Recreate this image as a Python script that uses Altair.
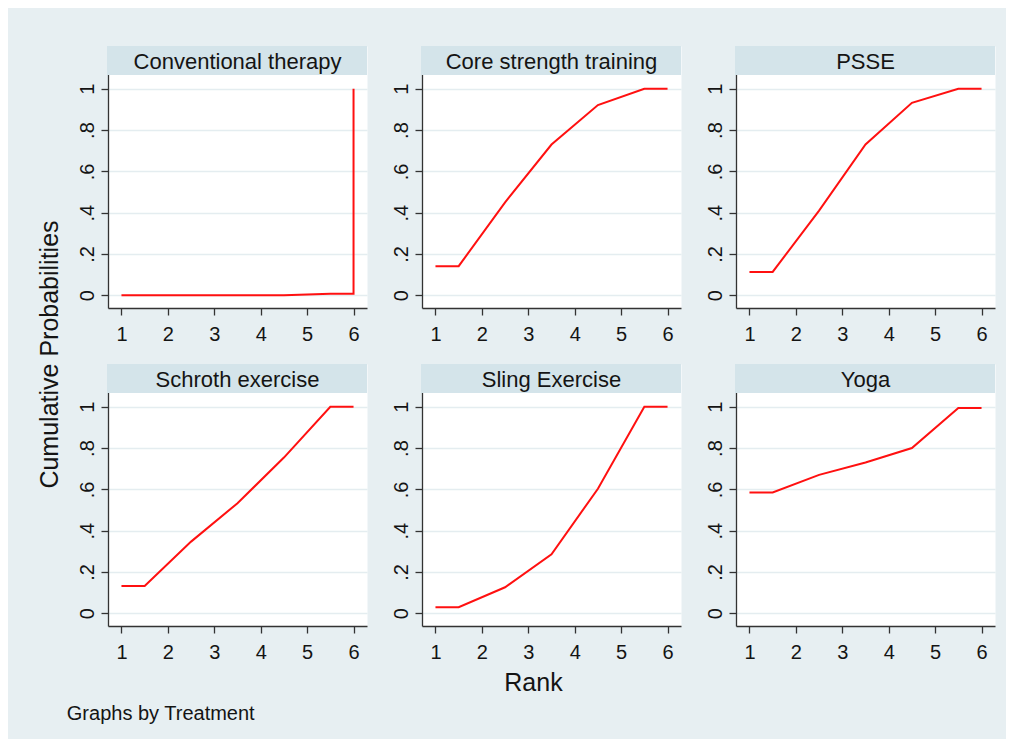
import altair as alt
import pandas as pd

# ---------------- data ----------------
TREATMENTS = ["Conventional therapy", "Core strength training", "PSSE",
              "Schroth exercise", "Sling Exercise", "Yoga"]
RANK_POS = [1, 1.5, 2.5, 3.5, 4.5, 5.5, 6]
CONVENTIONAL_POS = [1, 1.5, 2.5, 3.5, 4.5, 5.5, 6, 6]
CONVENTIONAL = [0.0, 0.0, 0.0, 0.0, 0.0, 0.008, 0.008, 1.0]
CORE_STRENGTH = [0.141, 0.141, 0.45, 0.73, 0.921, 1.0, 1.0]
PSSE = [0.113, 0.113, 0.41, 0.73, 0.932, 1.0, 1.0]
SCHROTH = [0.132, 0.132, 0.347, 0.533, 0.754, 1.0, 1.0]
SLING = [0.029, 0.029, 0.126, 0.286, 0.603, 1.0, 1.0]
YOGA = [0.585, 0.585, 0.67, 0.73, 0.80, 0.994, 0.994]

X_TICKS = [1, 2, 3, 4, 5, 6]
Y_TICKS = [0, 0.2, 0.4, 0.6, 0.8, 1]

# ---------------- style ----------------
FONT = "Liberation Sans"
BG = "#e7eff2"
HEAD_COLOR = "#d4e4ea"
GRID = "#e4edf0"
AXIS_COL = "#333333"
TEXT_COL = "#141414"
LINE_COL = "#ff1010"

W, H = 259, 262
HEAD = 29
X_DOMAIN = [0.71, 6.29]
Y_DOMAIN = [-0.0616, 1.207]


def panel(name, xs, ys, y_title=False, x_title=None):
    df = pd.DataFrame({"rank": xs, "prob": ys, "order": list(range(len(xs)))})

    x_kwargs = dict(values=X_TICKS, grid=False, labelPadding=9, format="d")
    if x_title == "Rank":
        x_kwargs.update(titleX=111, titleY=64, titleAlign="center",
                        titleBaseline="alphabetic", titleFontSize=25)
    elif x_title == "Graphs by Treatment":
        x_kwargs.update(titleX=-41.7, titleY=93, titleAlign="left",
                        titleBaseline="alphabetic", titleFontSize=20)

    y_kwargs = dict(values=Y_TICKS, grid=True, labelAngle=270,
                    labelAlign="center", labelBaseline="bottom", labelPadding=4,
                    labelExpr="datum.value == 0 ? '0' : datum.value == 1 ? '1' : '.' + toString(round(datum.value * 10))")
    if y_title:
        y_kwargs.update(titleX=-58.7, titleY=308, titleAngle=270,
                        titleAlign="center", titleBaseline="middle",
                        titleFontSize=25)

    line = alt.Chart(df).mark_line(color=LINE_COL, strokeWidth=2).encode(
        x=alt.X("rank:Q",
                scale=alt.Scale(domain=X_DOMAIN, nice=False, zero=False),
                axis=alt.Axis(**x_kwargs),
                title=x_title),
        y=alt.Y("prob:Q",
                scale=alt.Scale(domain=Y_DOMAIN, nice=False, zero=False),
                axis=alt.Axis(**y_kwargs),
                title="Cumulative Probabilities" if y_title else None),
        order="order:Q",
    )

    head_df = pd.DataFrame({"t": [name]})
    head_rect = alt.Chart(head_df).mark_rect(color=HEAD_COLOR).encode(
        x=alt.value(-1), x2=alt.value(W), y=alt.value(0), y2=alt.value(HEAD)
    )
    head_text = alt.Chart(head_df).mark_text(
        font=FONT, fontSize=22, align="center", baseline="alphabetic", color=TEXT_COL
    ).encode(text="t:N", x=alt.value(W / 2), y=alt.value(22.5))

    return alt.layer(line, head_rect, head_text).properties(width=W, height=H)


p1 = panel(TREATMENTS[0], CONVENTIONAL_POS, CONVENTIONAL, y_title=True)
p2 = panel(TREATMENTS[1], RANK_POS, CORE_STRENGTH)
p3 = panel(TREATMENTS[2], RANK_POS, PSSE)
p4 = panel(TREATMENTS[3], RANK_POS, SCHROTH, x_title="Graphs by Treatment")
p5 = panel(TREATMENTS[4], RANK_POS, SLING, x_title="Rank")
p6 = panel(TREATMENTS[5], RANK_POS, YOGA)

chart = alt.concat(
    p1, p2, p3, p4, p5, p6, columns=3,
    spacing={"row": 56, "column": 55}, bounds="flush",
).properties(
    padding={"left": 28, "top": 37, "right": 10, "bottom": 15},
    background=BG,
).configure_view(
    fill="white", stroke="transparent"
).configure_axis(
    labelFont=FONT, labelFontSize=20, labelColor=TEXT_COL,
    titleFont=FONT, titleFontWeight="normal", titleColor=TEXT_COL,
    domainColor=AXIS_COL, domainWidth=1.3,
    tickColor=AXIS_COL, tickWidth=1.3, tickSize=7,
    gridColor=GRID, gridWidth=1.5,
)

chart.save("out.html", embed_options={"renderer": "svg", "actions": False})
